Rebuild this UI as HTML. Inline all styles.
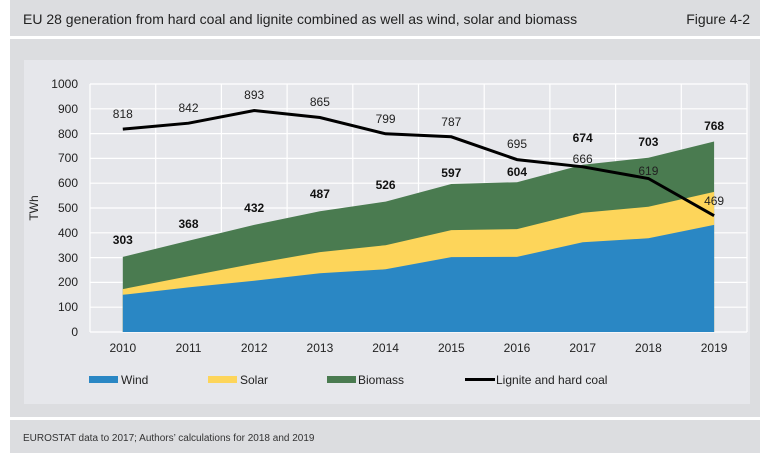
<!DOCTYPE html>
<html><head><meta charset="utf-8"><style>
body{margin:0;width:770px;height:458px;background:#fff;overflow:hidden;font-family:"Liberation Sans",sans-serif}
</style></head><body>
<svg width="770" height="458" xmlns="http://www.w3.org/2000/svg" font-family="Liberation Sans, sans-serif">
<rect x="10" y="0" width="750" height="36" fill="#dcdde0"/>
<text x="23" y="24" font-size="14" fill="#222">EU 28 generation from hard coal and lignite combined as well as wind, solar and biomass</text>
<text x="750" y="24" font-size="14" fill="#222" text-anchor="end">Figure 4-2</text>
<rect x="10" y="39" width="750" height="378" fill="#dcdde0"/>
<rect x="24" y="60" width="726" height="344" fill="#e6e7eb"/>
<rect x="10" y="420" width="750" height="33" fill="#dcdde0"/>
<text x="23" y="441" font-size="10" fill="#333">EUROSTAT data to 2017; Authors’ calculations for 2018 and 2019</text>
<g stroke="#fff" stroke-width="1.2">
<line x1="90" y1="84" x2="747" y2="84"/><line x1="90" y1="108.8" x2="747" y2="108.8"/><line x1="90" y1="133.6" x2="747" y2="133.6"/><line x1="90" y1="158.4" x2="747" y2="158.4"/><line x1="90" y1="183.2" x2="747" y2="183.2"/><line x1="90" y1="208" x2="747" y2="208"/><line x1="90" y1="232.8" x2="747" y2="232.8"/><line x1="90" y1="257.6" x2="747" y2="257.6"/><line x1="90" y1="282.4" x2="747" y2="282.4"/><line x1="90" y1="307.2" x2="747" y2="307.2"/><line x1="90" y1="332" x2="747" y2="332"/>
<line x1="90" y1="84" x2="90" y2="332"/><line x1="155.7" y1="84" x2="155.7" y2="332"/><line x1="221.4" y1="84" x2="221.4" y2="332"/><line x1="287.1" y1="84" x2="287.1" y2="332"/><line x1="352.8" y1="84" x2="352.8" y2="332"/><line x1="418.5" y1="84" x2="418.5" y2="332"/><line x1="484.2" y1="84" x2="484.2" y2="332"/><line x1="549.9" y1="84" x2="549.9" y2="332"/><line x1="615.6" y1="84" x2="615.6" y2="332"/><line x1="681.3" y1="84" x2="681.3" y2="332"/><line x1="747" y1="84" x2="747" y2="332"/>
</g>
<polygon fill="#4a7b50" points="122.8,256.9 188.5,240.7 254.2,224.9 319.9,211.2 385.6,201.6 451.3,184.0 517,182.2 582.7,164.8 648.4,157.7 714.1,141.5 714.1,332 122.8,332"/>
<polygon fill="#fdd55a" points="122.8,289.1 188.5,276.2 254.2,263.6 319.9,252.1 385.6,245.2 451.3,230.1 517,229.1 582.7,212.7 648.4,206.8 714.1,191.9 714.1,332 122.8,332"/>
<polygon fill="#2a87c4" points="122.8,294.8 188.5,287.4 254.2,280.7 319.9,273.2 385.6,269.3 451.3,257.1 517,256.9 582.7,242.2 648.4,238.3 714.1,224.9 714.1,332 122.8,332"/>
<polyline fill="none" stroke="#000" stroke-width="3" points="122.8,129.1 188.5,123.2 254.2,110.5 319.9,117.5 385.6,133.8 451.3,136.8 517,159.6 582.7,166.8 648.4,178.5 714.1,215.7"/>
<g font-size="12" fill="#222" text-anchor="end">
<text x="78" y="88">1000</text><text x="78" y="113">900</text><text x="78" y="138">800</text><text x="78" y="162">700</text><text x="78" y="187">600</text><text x="78" y="212">500</text><text x="78" y="237">400</text><text x="78" y="262">300</text><text x="78" y="286">200</text><text x="78" y="311">100</text><text x="78" y="336">0</text>
</g>
<text x="38" y="208" font-size="12" fill="#222" text-anchor="middle" transform="rotate(-90 38 208)">TWh</text>
<g font-size="12" fill="#222" text-anchor="middle">
<text x="122.8" y="352">2010</text><text x="188.5" y="352">2011</text><text x="254.2" y="352">2012</text><text x="319.9" y="352">2013</text><text x="385.6" y="352">2014</text><text x="451.3" y="352">2015</text><text x="517" y="352">2016</text><text x="582.7" y="352">2017</text><text x="648.4" y="352">2018</text><text x="714.1" y="352">2019</text>
<text x="122.8" y="118">818</text><text x="188.5" y="112">842</text><text x="254.2" y="99">893</text><text x="319.9" y="106">865</text><text x="385.6" y="123">799</text><text x="451.3" y="126">787</text><text x="517" y="148">695</text><text x="582.7" y="163">666</text><text x="648.4" y="175">619</text><text x="714.1" y="205">469</text>
</g>
<g font-size="12" fill="#111" text-anchor="middle" font-weight="bold">
<text x="122.8" y="244">303</text><text x="188.5" y="228">368</text><text x="254.2" y="212">432</text><text x="319.9" y="198">487</text><text x="385.6" y="189">526</text><text x="451.3" y="177">597</text><text x="517" y="176">604</text><text x="582.7" y="142">674</text><text x="648.4" y="146">703</text><text x="714.1" y="130">768</text>
</g>
<g font-size="12" fill="#222">
<rect x="89" y="376" width="29" height="7" fill="#2a87c4"/><text x="121" y="384">Wind</text>
<rect x="208" y="376" width="29" height="7" fill="#fdd55a"/><text x="240" y="384">Solar</text>
<rect x="327" y="376" width="29" height="7" fill="#4a7b50"/><text x="358" y="384">Biomass</text>
<rect x="465" y="378" width="30" height="3" fill="#000"/><text x="496" y="384">Lignite and hard coal</text>
</g>
</svg>
</body></html>
